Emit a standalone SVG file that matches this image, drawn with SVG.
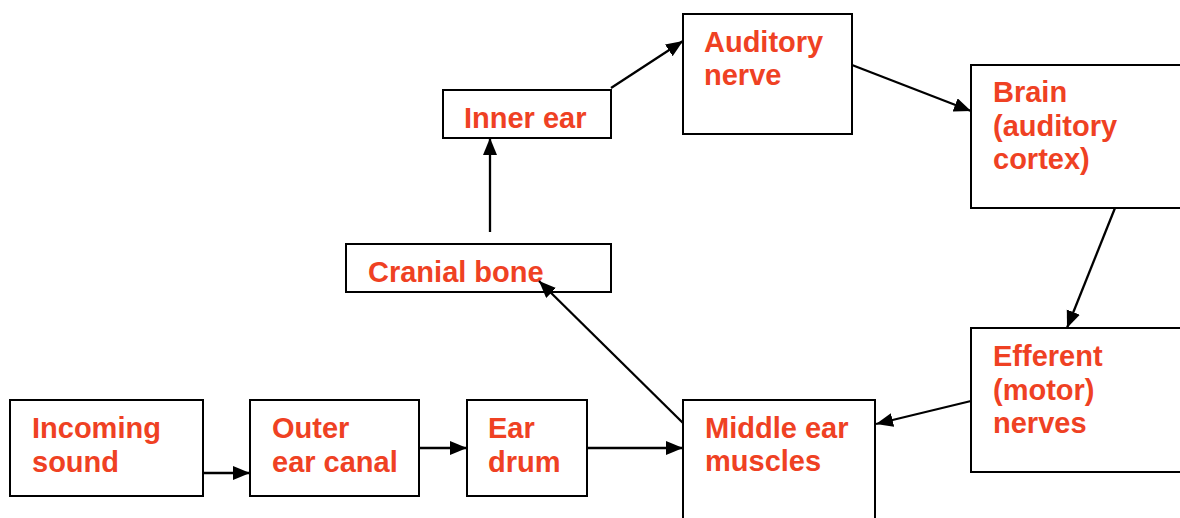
<svg xmlns="http://www.w3.org/2000/svg" width="1180" height="518" viewBox="0 0 1180 518">
<style>
.box{fill:#fff;stroke:#000;stroke-width:2}
.lbl{font-family:"Liberation Sans",Arial,sans-serif;font-weight:bold;font-size:29px;fill:#EF4123}
.conn{stroke:#000;stroke-width:2.3;fill:none;marker-end:url(#ah)}
</style>
<defs>
<marker id="ah" markerUnits="userSpaceOnUse" markerWidth="18" markerHeight="15" refX="17" refY="7" orient="auto">
<path d="M0,0 L17,7 L0,14 z" fill="#000"/>
</marker>
</defs>
<rect width="1180" height="518" fill="#fff"/>
<g id="incoming-sound">
<rect class="box" x="10" y="400" width="193" height="96"/>
<text class="lbl" x="32" y="438">Incoming</text>
<text class="lbl" x="32" y="472">sound</text>
</g>
<g id="outer-ear-canal">
<rect class="box" x="250" y="400" width="169" height="96"/>
<text class="lbl" x="272" y="438">Outer</text>
<text class="lbl" x="272" y="472">ear canal</text>
</g>
<g id="ear-drum">
<rect class="box" x="467" y="400" width="120" height="96"/>
<text class="lbl" x="488" y="438">Ear</text>
<text class="lbl" x="488" y="472">drum</text>
</g>
<g id="middle-ear-muscles">
<rect class="box" x="683" y="400" width="192" height="130"/>
<text class="lbl" x="705" y="438">Middle ear</text>
<text class="lbl" x="705" y="471">muscles</text>
</g>
<g id="cranial-bone">
<rect class="box" x="346" y="244" width="265" height="48"/>
<text class="lbl" x="368" y="282">Cranial bone</text>
</g>
<g id="inner-ear">
<rect class="box" x="443" y="90" width="168" height="48"/>
<text class="lbl" x="464" y="128">Inner ear</text>
</g>
<g id="auditory-nerve">
<rect class="box" x="683" y="14" width="169" height="120"/>
<text class="lbl" x="704" y="52">Auditory</text>
<text class="lbl" x="704" y="85">nerve</text>
</g>
<g id="brain">
<rect class="box" x="971" y="65" width="220" height="143"/>
<text class="lbl" x="993" y="102">Brain</text>
<text class="lbl" x="993" y="135.5">(auditory</text>
<text class="lbl" x="993" y="169">cortex)</text>
</g>
<g id="efferent-nerves">
<rect class="box" x="971" y="328" width="220" height="144"/>
<text class="lbl" x="993" y="366">Efferent</text>
<text class="lbl" x="993" y="400">(motor)</text>
<text class="lbl" x="993" y="433">nerves</text>
</g>
<g id="connectors">
<line class="conn" x1="203" y1="473" x2="250" y2="473"/>
<line class="conn" x1="419" y1="448" x2="467" y2="448"/>
<line class="conn" x1="587" y1="448" x2="683" y2="448"/>
<line class="conn" x1="683" y1="423" x2="539" y2="281"/>
<line class="conn" x1="490" y1="232" x2="490" y2="138"/>
<line class="conn" x1="611" y1="88" x2="683" y2="41"/>
<line class="conn" x1="852" y1="65" x2="971" y2="111"/>
<line class="conn" x1="1115" y1="208" x2="1067" y2="328"/>
<line class="conn" x1="971" y1="401" x2="876" y2="424"/>
</g>
</svg>
